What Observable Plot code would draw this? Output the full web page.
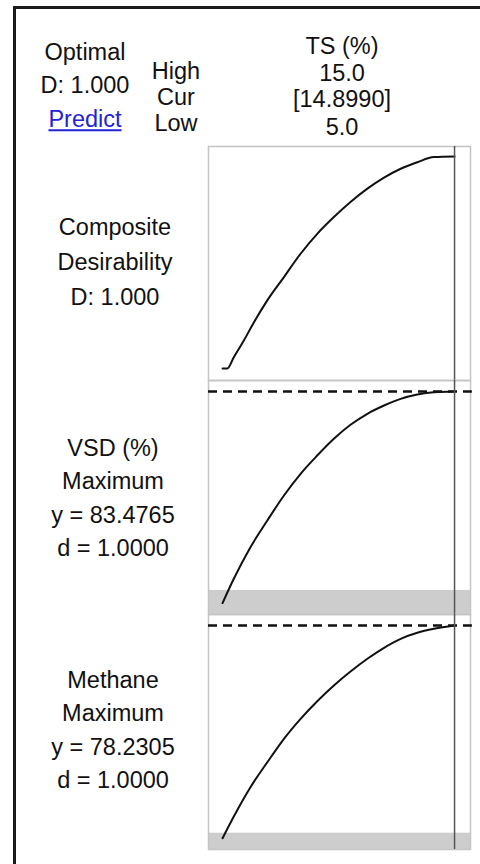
<!DOCTYPE html>
<html>
<head>
<meta charset="utf-8">
<script src="https://cdn.jsdelivr.net/npm/d3@7"></script>
<script src="https://cdn.jsdelivr.net/npm/@observablehq/plot@0.6"></script>
<style>
  html, body { margin: 0; padding: 0; background: #fff; }
  #wrap { position: relative; width: 480px; height: 864px; overflow: hidden; background: #fff;
          font-family: "Liberation Sans", Arial, sans-serif; color: #111; }
  #border { position: absolute; left: 13px; top: 6px; width: 520px; height: 900px;
            border-left: 3px solid #1a1a1a; border-top: 3px solid #1a1a1a; box-sizing: border-box; }
  .t { position: absolute; font-size: 23.5px; line-height: 1; white-space: nowrap;
       transform: translate(-50%, -50%); }
  .link { color: #2323d6; text-decoration: underline; }
</style>
</head>
<body>
<div id="wrap">
  <div id="border"></div>
</div>
<script>
// ---- data ----
const factorName = "TS (%)";
const factorHigh = 15.0;
const factorLow = 5.0;
const factorCur = 14.899;

const tsComposite = [5.0, 5.2, 5.48, 5.91, 6.34, 6.91, 7.62, 8.33, 9.04, 9.75, 10.46, 11.18, 11.89, 12.6, 13.31, 14.02, 14.9];
const compositeD = [0, 0, 0.053, 0.132, 0.218, 0.321, 0.431, 0.541, 0.635, 0.714, 0.785, 0.848, 0.9, 0.942, 0.973, 0.997, 1.0];

const tsResponse = [5.0, 5.48, 6.19, 6.91, 7.62, 8.33, 9.04, 9.75, 10.46, 11.18, 11.89, 12.6, 13.31, 14.02, 14.9];
const vsdValues = [50.0, 53.84, 58.84, 63.07, 67.02, 70.46, 73.35, 76.0, 78.21, 79.95, 81.26, 82.32, 83.0, 83.37, 83.48];
const methaneValues = [45.0, 48.39, 52.96, 56.87, 60.53, 63.65, 66.40, 68.86, 71.04, 73.03, 74.75, 76.15, 77.09, 77.71, 78.23];

const vsdCurrent = 83.4765;
const methaneCurrent = 78.2305;
const vsdLower = 52.0;
const methaneLower = 45.78;

const headerLeft = ["Optimal", "D: 1.000", "Predict"];
const headerMid = ["High", "Cur", "Low"];
const headerFactor = [factorName, factorHigh.toFixed(1), "[" + factorCur.toFixed(4) + "]", factorLow.toFixed(1)];
const labelComposite = ["Composite", "Desirability", "D: 1.000"];
const labelVSD = ["VSD (%)", "Maximum", "y = " + vsdCurrent.toFixed(4), "d = 1.0000"];
const labelMethane = ["Methane", "Maximum", "y = " + methaneCurrent.toFixed(4), "d = 1.0000"];

// ---- layout ----
const wrap = document.getElementById("wrap");
function addText(str, x, y, cls) {
  const d = document.createElement("div");
  d.className = "t" + (cls ? " " + cls : "");
  d.style.left = x + "px";
  d.style.top = y + "px";
  d.textContent = str;
  wrap.appendChild(d);
}
[53, 86, 120].forEach((y, i) => addText(headerLeft[i], 85, y, i === 2 ? "link" : ""));
[72, 98, 124].forEach((y, i) => addText(headerMid[i], 176, y));
[47, 74, 100, 128].forEach((y, i) => addText(headerFactor[i], 342, y));
[228, 263, 298].forEach((y, i) => addText(labelComposite[i], 115, y));
[449, 482, 516, 549].forEach((y, i) => addText(labelVSD[i], 113, y));
[681, 714, 748, 781].forEach((y, i) => addText(labelMethane[i], 113, y));

const xDomain = [4.40, 15.58];
const xEnd = 15.66;
const frameColor = "#c4c4c4";
const bandColor = "#cdcdcd";

function panel(top, height, yDomain, series, opts) {
  const marks = [];
  if (opts.lower != null) {
    marks.push(Plot.rect([opts.lower], {x1: xDomain[0], x2: xDomain[1], y1: yDomain[0], y2: d => d, fill: bandColor}));
  }
  marks.push(Plot.frame({stroke: frameColor, strokeWidth: 1.5}));
  marks.push(Plot.line(series, {x: "x", y: "y", stroke: "#111", strokeWidth: 2, curve: "monotone-x"}));
  if (opts.current != null) {
    marks.push(Plot.ruleY([opts.current], {x1: xDomain[0], x2: xEnd, stroke: "#111", strokeWidth: 2.5, strokeDasharray: "9,6"}));
  }
  marks.push(Plot.ruleX([factorCur], {stroke: "#555", strokeWidth: 1.5}));
  const svg = Plot.plot({
    width: 268, height,
    marginLeft: 1, marginRight: 5, marginTop: 0, marginBottom: 0,
    style: {overflow: "visible", background: "transparent"},
    x: {domain: xDomain, axis: null},
    y: {domain: yDomain, axis: null},
    marks
  });
  svg.style.position = "absolute";
  svg.style.top = top + "px";
  svg.style.left = "207px";
  wrap.appendChild(svg);
}

panel(146, 234, [-0.057, 1.047], tsComposite.map((x, i) => ({x, y: compositeD[i]})), {});
panel(380, 234, [48.19, 85.22], tsResponse.map((x, i) => ({x, y: vsdValues[i]})), {current: vsdCurrent, lower: vsdLower});
panel(614, 235, [43.23, 79.95], tsResponse.map((x, i) => ({x, y: methaneValues[i]})), {current: methaneCurrent, lower: methaneLower});
</script>
</body>
</html>
